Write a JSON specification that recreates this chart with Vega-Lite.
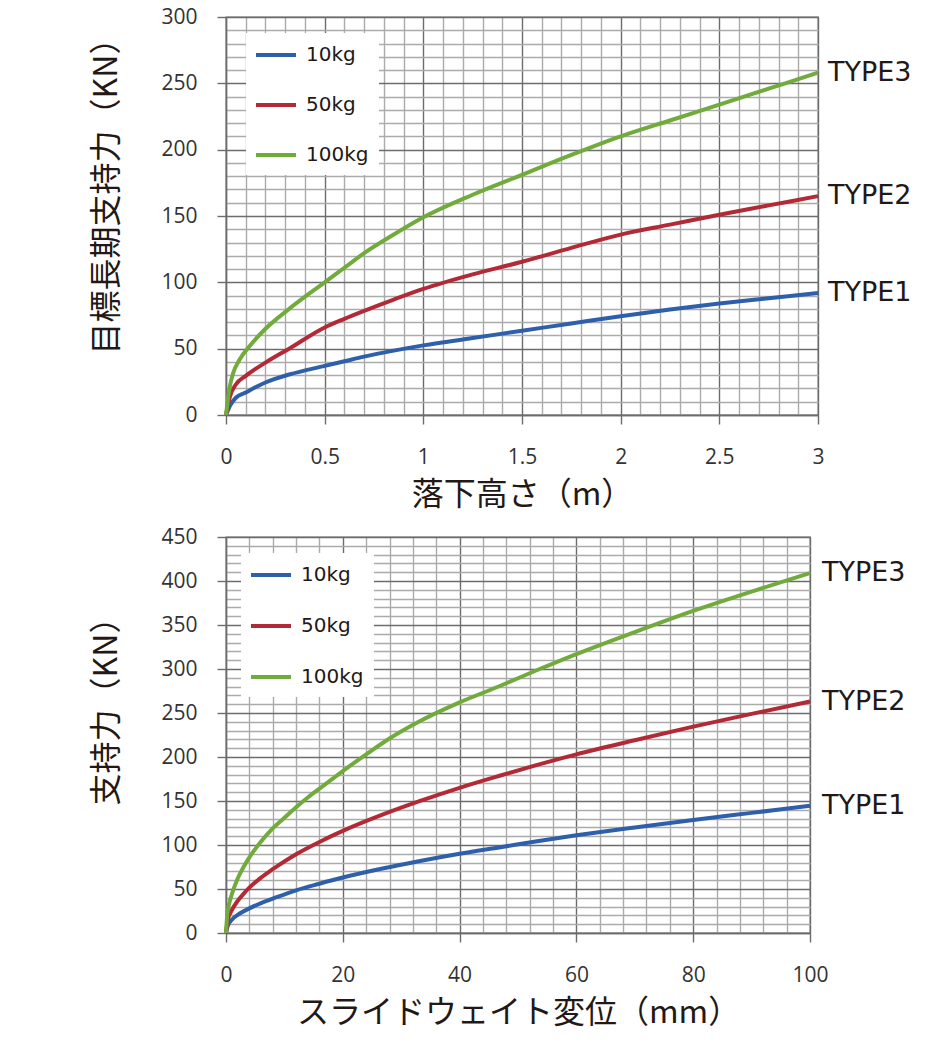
{
  "$schema": "https://vega.github.io/schema/vega-lite/v6.json",
  "background": "white",
  "padding": {"left": 90, "top": 5, "right": 5, "bottom": 5},
  "spacing": 14,
  "datasets": {
    "drop": [
      {"weight": "10kg", "x": 0, "y": 0}, {"weight": "10kg", "x": 0.02, "y": 7}, {"weight": "10kg", "x": 0.05, "y": 13}, {"weight": "10kg", "x": 0.1, "y": 17}, {"weight": "10kg", "x": 0.2, "y": 24.5}, {"weight": "10kg", "x": 0.32, "y": 30.5}, {"weight": "10kg", "x": 0.5, "y": 37}, {"weight": "10kg", "x": 0.6, "y": 40.5}, {"weight": "10kg", "x": 0.7, "y": 44}, {"weight": "10kg", "x": 0.85, "y": 48.5}, {"weight": "10kg", "x": 1.0, "y": 52.5}, {"weight": "10kg", "x": 1.25, "y": 58}, {"weight": "10kg", "x": 1.5, "y": 63.5}, {"weight": "10kg", "x": 1.75, "y": 69}, {"weight": "10kg", "x": 2.0, "y": 74.5}, {"weight": "10kg", "x": 2.25, "y": 79.5}, {"weight": "10kg", "x": 2.5, "y": 84}, {"weight": "10kg", "x": 2.75, "y": 88}, {"weight": "10kg", "x": 3.0, "y": 92},
      {"weight": "50kg", "x": 0, "y": 0}, {"weight": "50kg", "x": 0.02, "y": 14}, {"weight": "50kg", "x": 0.05, "y": 23}, {"weight": "50kg", "x": 0.1, "y": 29.5}, {"weight": "50kg", "x": 0.2, "y": 39.5}, {"weight": "50kg", "x": 0.32, "y": 50}, {"weight": "50kg", "x": 0.5, "y": 66}, {"weight": "50kg", "x": 0.6, "y": 72.5}, {"weight": "50kg", "x": 0.7, "y": 78.5}, {"weight": "50kg", "x": 0.85, "y": 87}, {"weight": "50kg", "x": 1.0, "y": 95}, {"weight": "50kg", "x": 1.25, "y": 106}, {"weight": "50kg", "x": 1.5, "y": 115.5}, {"weight": "50kg", "x": 1.75, "y": 126}, {"weight": "50kg", "x": 2.0, "y": 136}, {"weight": "50kg", "x": 2.25, "y": 143.5}, {"weight": "50kg", "x": 2.5, "y": 151}, {"weight": "50kg", "x": 2.75, "y": 158}, {"weight": "50kg", "x": 3.0, "y": 165},
      {"weight": "100kg", "x": 0, "y": 0}, {"weight": "100kg", "x": 0.02, "y": 22}, {"weight": "100kg", "x": 0.035, "y": 31}, {"weight": "100kg", "x": 0.07, "y": 42}, {"weight": "100kg", "x": 0.12, "y": 52}, {"weight": "100kg", "x": 0.2, "y": 65}, {"weight": "100kg", "x": 0.32, "y": 80}, {"weight": "100kg", "x": 0.5, "y": 100}, {"weight": "100kg", "x": 0.6, "y": 111}, {"weight": "100kg", "x": 0.7, "y": 122}, {"weight": "100kg", "x": 0.85, "y": 136}, {"weight": "100kg", "x": 1.0, "y": 149}, {"weight": "100kg", "x": 1.25, "y": 166}, {"weight": "100kg", "x": 1.5, "y": 181}, {"weight": "100kg", "x": 1.75, "y": 196}, {"weight": "100kg", "x": 2.0, "y": 210}, {"weight": "100kg", "x": 2.25, "y": 222}, {"weight": "100kg", "x": 2.5, "y": 234}, {"weight": "100kg", "x": 2.75, "y": 246}, {"weight": "100kg", "x": 3.0, "y": 258}
    ],
    "dropLabels": [
      {"label": "TYPE1", "x": 3.0, "y": 92},
      {"label": "TYPE2", "x": 3.0, "y": 165},
      {"label": "TYPE3", "x": 3.0, "y": 258}
    ],
    "slide": [
      {"weight": "10kg", "x": 0, "y": 0}, {"weight": "10kg", "x": 0.3, "y": 8}, {"weight": "10kg", "x": 1, "y": 15}, {"weight": "10kg", "x": 2, "y": 20.5}, {"weight": "10kg", "x": 4, "y": 28}, {"weight": "10kg", "x": 6, "y": 34}, {"weight": "10kg", "x": 8, "y": 39}, {"weight": "10kg", "x": 12, "y": 48.5}, {"weight": "10kg", "x": 16, "y": 56}, {"weight": "10kg", "x": 20, "y": 63}, {"weight": "10kg", "x": 27, "y": 73.5}, {"weight": "10kg", "x": 33, "y": 81.5}, {"weight": "10kg", "x": 40, "y": 90}, {"weight": "10kg", "x": 47, "y": 97.5}, {"weight": "10kg", "x": 53, "y": 104}, {"weight": "10kg", "x": 60, "y": 111}, {"weight": "10kg", "x": 70, "y": 120}, {"weight": "10kg", "x": 80, "y": 128.5}, {"weight": "10kg", "x": 90, "y": 136.5}, {"weight": "10kg", "x": 100, "y": 144.5},
      {"weight": "50kg", "x": 0, "y": 0}, {"weight": "50kg", "x": 0.3, "y": 15}, {"weight": "50kg", "x": 1, "y": 26}, {"weight": "50kg", "x": 2, "y": 36.5}, {"weight": "50kg", "x": 3, "y": 44.5}, {"weight": "50kg", "x": 4, "y": 51.5}, {"weight": "50kg", "x": 6, "y": 63}, {"weight": "50kg", "x": 8, "y": 72.5}, {"weight": "50kg", "x": 12, "y": 89.5}, {"weight": "50kg", "x": 16, "y": 103.5}, {"weight": "50kg", "x": 20, "y": 116}, {"weight": "50kg", "x": 27, "y": 135}, {"weight": "50kg", "x": 33, "y": 149.5}, {"weight": "50kg", "x": 40, "y": 165}, {"weight": "50kg", "x": 47, "y": 179}, {"weight": "50kg", "x": 53, "y": 190.5}, {"weight": "50kg", "x": 60, "y": 203}, {"weight": "50kg", "x": 70, "y": 219}, {"weight": "50kg", "x": 80, "y": 234.5}, {"weight": "50kg", "x": 90, "y": 249}, {"weight": "50kg", "x": 100, "y": 263},
      {"weight": "100kg", "x": 0, "y": 0}, {"weight": "100kg", "x": 0.2, "y": 20}, {"weight": "100kg", "x": 0.5, "y": 32}, {"weight": "100kg", "x": 1, "y": 44}, {"weight": "100kg", "x": 2, "y": 62}, {"weight": "100kg", "x": 3, "y": 75}, {"weight": "100kg", "x": 4, "y": 86}, {"weight": "100kg", "x": 6, "y": 104}, {"weight": "100kg", "x": 8, "y": 119}, {"weight": "100kg", "x": 10, "y": 131}, {"weight": "100kg", "x": 12, "y": 143}, {"weight": "100kg", "x": 14, "y": 154}, {"weight": "100kg", "x": 16.4, "y": 166}, {"weight": "100kg", "x": 20, "y": 184}, {"weight": "100kg", "x": 24, "y": 203}, {"weight": "100kg", "x": 28, "y": 221}, {"weight": "100kg", "x": 33, "y": 240}, {"weight": "100kg", "x": 40, "y": 262}, {"weight": "100kg", "x": 47, "y": 281}, {"weight": "100kg", "x": 53, "y": 298}, {"weight": "100kg", "x": 60, "y": 317}, {"weight": "100kg", "x": 70, "y": 342}, {"weight": "100kg", "x": 80, "y": 366}, {"weight": "100kg", "x": 90, "y": 388}, {"weight": "100kg", "x": 100, "y": 409}
    ],
    "slideLabels": [
      {"label": "TYPE1", "x": 100, "y": 144.5},
      {"label": "TYPE2", "x": 100, "y": 263},
      {"label": "TYPE3", "x": 100, "y": 409}
    ]
  },
  "vconcat": [
    {
      "width": 592,
      "height": 398,
      "layer": [
        {
          "data": {"name": "drop"},
          "mark": {"type": "line", "strokeWidth": 4, "interpolate": "monotone"},
          "encoding": {
            "x": {
              "field": "x", "type": "quantitative",
              "scale": {"domain": [0, 3], "nice": false, "zero": true},
              "axis": {
                "title": "落下高さ（m）",
                "tickCount": 1000,
                "values": [0, 0.1, 0.2, 0.3, 0.4, 0.5, 0.6, 0.7, 0.8, 0.9, 1, 1.1, 1.2, 1.3, 1.4, 1.5, 1.6, 1.7, 1.8, 1.9, 2, 2.1, 2.2, 2.3, 2.4, 2.5, 2.6, 2.7, 2.8, 2.9, 3],
                "format": "~g",
                "labelExpr": "abs(datum.value*2 - round(datum.value*2)) < 0.001 ? datum.label : ''",
                "gridColor": {"condition": {"test": "abs(datum.value*2 - round(datum.value*2)) < 0.001", "value": "#6c6c6c"}, "value": "#ababab"},
                "tickColor": {"condition": {"test": "abs(datum.value*2 - round(datum.value*2)) < 0.001", "value": "#6c6c6c"}, "value": "transparent"}
              }
            },
            "y": {
              "field": "y", "type": "quantitative",
              "scale": {"domain": [0, 300], "nice": false},
              "axis": {
                "title": "目標長期支持力（KN）",
                "titleY": 171,
                "tickCount": 1000,
                "format": "d",
                "values": [0, 10, 20, 30, 40, 50, 60, 70, 80, 90, 100, 110, 120, 130, 140, 150, 160, 170, 180, 190, 200, 210, 220, 230, 240, 250, 260, 270, 280, 290, 300],
                "labelExpr": "datum.value % 50 === 0 ? datum.label : ''",
                "gridColor": {"condition": {"test": "datum.value % 50 === 0", "value": "#6c6c6c"}, "value": "#ababab"},
                "tickColor": {"condition": {"test": "datum.value % 50 === 0", "value": "#6c6c6c"}, "value": "transparent"}
              }
            },
            "color": {
              "field": "weight", "type": "nominal",
              "scale": {"domain": ["10kg", "50kg", "100kg"], "range": ["#2e5fab", "#b32a37", "#70ab3b"]},
              "legend": {"title": null, "orient": "none", "legendX": 20, "legendY": 16, "rowPadding": 28}
            }
          }
        },
        {
          "data": {"name": "dropLabels"},
          "mark": {"type": "text", "align": "left", "baseline": "middle", "dx": 10, "font": "DejaVu Sans", "fontSize": 27, "color": "#231815"},
          "encoding": {
            "x": {"field": "x", "type": "quantitative"},
            "y": {"field": "y", "type": "quantitative"},
            "text": {"field": "label"}
          }
        }
      ]
    },
    {
      "width": 584,
      "height": 396,
      "layer": [
        {
          "data": {"name": "slide"},
          "mark": {"type": "line", "strokeWidth": 4, "interpolate": "monotone"},
          "encoding": {
            "x": {
              "field": "x", "type": "quantitative",
              "scale": {"domain": [0, 100], "nice": false},
              "axis": {
                "title": "スライドウェイト変位（mm）",
                "tickCount": 1000,
                "format": "d",
                "values": [0, 4, 8, 12, 16, 20, 24, 28, 32, 36, 40, 44, 48, 52, 56, 60, 64, 68, 72, 76, 80, 84, 88, 92, 96, 100],
                "labelExpr": "datum.value % 20 === 0 ? datum.label : ''",
                "gridColor": {"condition": {"test": "datum.value % 20 === 0", "value": "#6c6c6c"}, "value": "#ababab"},
                "tickColor": {"condition": {"test": "datum.value % 20 === 0", "value": "#6c6c6c"}, "value": "transparent"}
              }
            },
            "y": {
              "field": "y", "type": "quantitative",
              "scale": {"domain": [0, 450], "nice": false},
              "axis": {
                "title": "支持力（KN）",
                "titleY": 166,
                "tickCount": 1000,
                "format": "d",
                "values": [0, 10, 20, 30, 40, 50, 60, 70, 80, 90, 100, 110, 120, 130, 140, 150, 160, 170, 180, 190, 200, 210, 220, 230, 240, 250, 260, 270, 280, 290, 300, 310, 320, 330, 340, 350, 360, 370, 380, 390, 400, 410, 420, 430, 440, 450],
                "labelExpr": "datum.value % 50 === 0 ? datum.label : ''",
                "gridColor": {"condition": {"test": "datum.value % 50 === 0", "value": "#6c6c6c"}, "value": "#ababab"},
                "tickColor": {"condition": {"test": "datum.value % 50 === 0", "value": "#6c6c6c"}, "value": "transparent"}
              }
            },
            "color": {
              "field": "weight", "type": "nominal",
              "scale": {"domain": ["10kg", "50kg", "100kg"], "range": ["#2e5fab", "#b32a37", "#70ab3b"]},
              "legend": {"title": null, "orient": "none", "legendX": 15, "legendY": 16, "rowPadding": 29}
            }
          }
        },
        {
          "data": {"name": "slideLabels"},
          "mark": {"type": "text", "align": "left", "baseline": "middle", "dx": 12, "font": "DejaVu Sans", "fontSize": 27, "color": "#231815"},
          "encoding": {
            "x": {"field": "x", "type": "quantitative"},
            "y": {"field": "y", "type": "quantitative"},
            "text": {"field": "label"}
          }
        }
      ]
    }
  ],
  "resolve": {"scale": {"color": "independent"}},
  "config": {
    "view": {"stroke": "#6c6c6c", "strokeWidth": 1.3},
    "axis": {
      "grid": true,
      "gridWidth": 1.4,
      "gridOpacity": 1,
      "domain": true,
      "domainColor": "#6c6c6c",
      "domainWidth": 1.4,
      "tickSize": 9,
      "tickWidth": 1.4,
      "labelFont": "Open Sans",
      "labelFontSize": 21,
      "labelColor": "#333333",
      "labelFlush": false,
      "labelOverlap": false,
      "titleFont": "Noto Sans CJK JP",
      "titleFontSize": 32,
      "titleFontWeight": "normal",
      "titleColor": "#231815"
    },
    "axisX": {"labelPadding": 22, "titlePadding": 12},
    "axisY": {"labelPadding": 20, "titlePadding": 37},
    "legend": {
      "fillColor": "white",
      "padding": 10,
      "symbolType": "M-2,0H2",
      "symbolStrokeWidth": 4,
      "symbolSize": 400,
      "symbolOffset": 8,
      "labelFont": "DejaVu Sans",
      "labelFontSize": 20,
      "labelColor": "#231815",
      "labelOffset": 18
    }
  }
}
